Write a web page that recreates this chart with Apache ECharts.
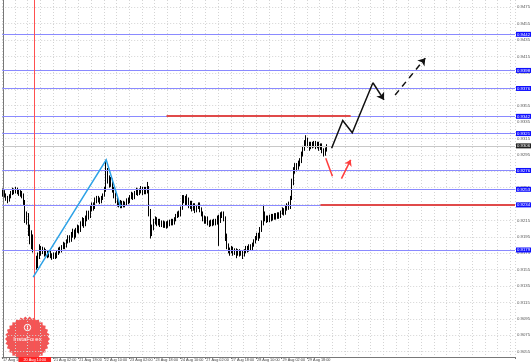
<!DOCTYPE html>
<html><head><meta charset="utf-8">
<script src="https://cdn.jsdelivr.net/npm/echarts@6/dist/echarts.min.js"></script>
<style>html,body{margin:0;padding:0;background:#fff}#c{width:531px;height:362px}</style>
</head><body><div id="c"></div>
<script>
// ---- data ----
const barCount = 323;
const timeTickIndex = [0,16,32,48,64,80,96,112,128,144,160,176,192];
const timeLabels = ['17 Aug 18:00','20 Aug 10:00','21 Aug 02:00','21 Aug 18:00','22 Aug 10:00','23 Aug 02:00','23 Aug 18:00','24 Aug 10:00','27 Aug 02:00','27 Aug 18:00','28 Aug 10:00','29 Aug 02:00','29 Aug 18:00'];
const priceTicks = [0.9055,0.9075,0.9095,0.9115,0.9135,0.9155,0.9175,0.9195,0.9215,0.9235,0.9255,0.9275,0.9295,0.9315,0.9335,0.9355,0.9375,0.9395,0.9415,0.9435,0.9455,0.9475];
const yMin = 0.90485, yMax = 0.94839;
// [open, close, low, high]
const candles = [
[0.9247,0.9250,0.9244,0.9254],[0.9250,0.9246,0.9243,0.9252],[0.9246,0.9242,0.9239,0.9248],[0.9242,0.9240,0.9236,0.9245],
[0.9240,0.9244,0.9238,0.9247],[0.9244,0.9249,0.9242,0.9251],[0.9249,0.9252,0.9246,0.9255],[0.9252,0.9250,0.9247,0.9254],
[0.9250,0.9253,0.9248,0.9256],[0.9253,0.9251,0.9247,0.9255],[0.9251,0.9248,0.9245,0.9253],[0.9248,0.9250,0.9244,0.9252],
[0.9250,0.9246,0.9242,0.9251],[0.9246,0.9238,0.9234,0.9248],[0.9238,0.9218,0.9212,0.9240],[0.9218,0.9222,0.9210,0.9226],
[0.9222,0.9205,0.9196,0.9224],[0.9205,0.9200,0.9186,0.9210],[0.9200,0.9190,0.9180,0.9203],[0.9190,0.9194,0.9176,0.9198],
[0.9194,0.9165,0.9148,0.9196],[0.9165,0.9160,0.9155,0.9172],[0.9160,0.9172,0.9157,0.9176],[0.9172,0.9181,0.9168,0.9186],
[0.9181,0.9177,0.9172,0.9184],[0.9177,0.9180,0.9174,0.9183],[0.9180,0.9175,0.9171,0.9182],[0.9175,0.9177,0.9172,0.9180],
[0.9177,0.9172,0.9169,0.9179],[0.9172,0.9176,0.9170,0.9178],[0.9176,0.9173,0.9169,0.9178],[0.9173,0.9170,0.9167,0.9175],
[0.9170,0.9174,0.9168,0.9176],[0.9174,0.9171,0.9168,0.9176],[0.9171,0.9176,0.9169,0.9178],[0.9176,0.9180,0.9173,0.9182],
[0.9180,0.9178,0.9175,0.9183],[0.9178,0.9183,0.9176,0.9185],[0.9183,0.9186,0.9180,0.9189],[0.9186,0.9184,0.9180,0.9188],
[0.9184,0.9190,0.9182,0.9192],[0.9190,0.9194,0.9187,0.9197],[0.9194,0.9191,0.9188,0.9197],[0.9191,0.9198,0.9189,0.9201],
[0.9198,0.9202,0.9194,0.9205],[0.9202,0.9196,0.9192,0.9204],[0.9196,0.9203,0.9194,0.9206],[0.9203,0.9207,0.9200,0.9210],
[0.9207,0.9204,0.9199,0.9209],[0.9204,0.9212,0.9201,0.9214],[0.9212,0.9216,0.9208,0.9219],[0.9216,0.9210,0.9206,0.9218],
[0.9210,0.9218,0.9208,0.9221],[0.9218,0.9224,0.9214,0.9227],[0.9224,0.9221,0.9216,0.9227],[0.9221,0.9230,0.9218,0.9233],
[0.9230,0.9234,0.9226,0.9237],[0.9234,0.9231,0.9227,0.9237],[0.9231,0.9240,0.9229,0.9243],[0.9240,0.9242,0.9236,0.9245],
[0.9242,0.9240,0.9237,0.9245],[0.9240,0.9238,0.9235,0.9243],[0.9238,0.9243,0.9236,0.9245],[0.9243,0.9246,0.9240,0.9248],
[0.9246,0.9252,0.9244,0.9256],[0.9252,0.9274,0.9250,0.9289],[0.9274,0.9266,0.9260,0.9279],[0.9266,0.9260,0.9255,0.9270],
[0.9260,0.9264,0.9256,0.9268],[0.9264,0.9253,0.9249,0.9266],[0.9253,0.9246,0.9242,0.9256],[0.9246,0.9240,0.9236,0.9249],
[0.9240,0.9236,0.9232,0.9243],[0.9236,0.9238,0.9231,0.9241],[0.9238,0.9233,0.9230,0.9240],[0.9233,0.9237,0.9230,0.9239],
[0.9237,0.9234,0.9231,0.9239],[0.9234,0.9236,0.9231,0.9238],[0.9236,0.9240,0.9233,0.9242],[0.9240,0.9238,0.9235,0.9243],
[0.9238,0.9244,0.9236,0.9246],[0.9244,0.9247,0.9241,0.9250],[0.9247,0.9243,0.9240,0.9249],[0.9243,0.9249,0.9241,0.9251],
[0.9249,0.9252,0.9246,0.9255],[0.9252,0.9248,0.9245,0.9254],[0.9248,0.9251,0.9246,0.9254],[0.9251,0.9254,0.9248,0.9257],
[0.9254,0.9249,0.9246,0.9256],[0.9249,0.9253,0.9247,0.9256],[0.9253,0.9250,0.9247,0.9256],[0.9250,0.9255,0.9248,0.9262],
[0.9255,0.9226,0.9220,0.9257],[0.9226,0.9202,0.9193,0.9229],[0.9202,0.9207,0.9196,0.9210],[0.9207,0.9214,0.9203,0.9217],
[0.9214,0.9217,0.9210,0.9220],[0.9217,0.9212,0.9208,0.9219],[0.9212,0.9215,0.9209,0.9217],[0.9215,0.9210,0.9207,0.9217],
[0.9210,0.9213,0.9207,0.9215],[0.9213,0.9209,0.9206,0.9215],[0.9209,0.9212,0.9206,0.9214],[0.9212,0.9208,0.9205,0.9214],
[0.9208,0.9213,0.9206,0.9215],[0.9213,0.9211,0.9208,0.9216],[0.9211,0.9215,0.9209,0.9217],[0.9215,0.9212,0.9209,0.9217],
[0.9212,0.9217,0.9210,0.9219],[0.9217,0.9221,0.9214,0.9223],[0.9221,0.9224,0.9218,0.9226],[0.9224,0.9222,0.9219,0.9227],
[0.9222,0.9230,0.9220,0.9232],[0.9230,0.9240,0.9228,0.9246],[0.9240,0.9243,0.9236,0.9246],[0.9243,0.9237,0.9233,0.9245],
[0.9237,0.9241,0.9234,0.9247],[0.9241,0.9234,0.9230,0.9243],[0.9234,0.9237,0.9229,0.9239],[0.9237,0.9230,0.9226,0.9239],
[0.9230,0.9234,0.9227,0.9236],[0.9234,0.9228,0.9224,0.9236],[0.9228,0.9232,0.9225,0.9234],[0.9232,0.9235,0.9229,0.9237],
[0.9235,0.9229,0.9225,0.9237],[0.9229,0.9224,0.9220,0.9231],[0.9224,0.9218,0.9214,0.9226],[0.9218,0.9215,0.9211,0.9221],
[0.9215,0.9218,0.9211,0.9220],[0.9218,0.9213,0.9209,0.9220],[0.9213,0.9210,0.9207,0.9215],[0.9210,0.9214,0.9208,0.9216],
[0.9214,0.9211,0.9208,0.9216],[0.9211,0.9215,0.9209,0.9217],[0.9215,0.9212,0.9209,0.9217],[0.9212,0.9219,0.9210,0.9221],
[0.9219,0.9215,0.9184,0.9222],[0.9215,0.9221,0.9212,0.9225],[0.9221,0.9224,0.9218,0.9226],[0.9224,0.9218,0.9214,0.9226],
[0.9218,0.9196,0.9190,0.9220],[0.9196,0.9184,0.9180,0.9199],[0.9184,0.9179,0.9175,0.9187],[0.9179,0.9176,0.9172,0.9182],
[0.9177,0.9181,0.9175,0.9184],[0.9181,0.9176,0.9172,0.9183],[0.9176,0.9179,0.9173,0.9181],[0.9179,0.9174,0.9169,0.9181],
[0.9174,0.9178,0.9172,0.9180],[0.9178,0.9175,0.9171,0.9180],[0.9175,0.9177,0.9172,0.9179],[0.9177,0.9173,0.9168,0.9179],
[0.9173,0.9178,0.9171,0.9180],[0.9178,0.9182,0.9175,0.9184],[0.9182,0.9179,0.9176,0.9184],[0.9179,0.9184,0.9177,0.9186],
[0.9184,0.9181,0.9178,0.9186],[0.9181,0.9186,0.9179,0.9188],[0.9186,0.9190,0.9183,0.9192],[0.9190,0.9194,0.9187,0.9196],
[0.9194,0.9198,0.9191,0.9200],[0.9198,0.9195,0.9190,0.9200],[0.9195,0.9204,0.9193,0.9207],[0.9204,0.9212,0.9201,0.9215],
[0.9212,0.9222,0.9209,0.9234],[0.9222,0.9218,0.9214,0.9226],[0.9218,0.9215,0.9212,0.9221],[0.9215,0.9219,0.9213,0.9221],
[0.9219,0.9216,0.9213,0.9222],[0.9216,0.9221,0.9214,0.9223],[0.9221,0.9218,0.9215,0.9223],[0.9218,0.9222,0.9216,0.9224],
[0.9222,0.9219,0.9216,0.9224],[0.9219,0.9223,0.9217,0.9225],[0.9223,0.9220,0.9217,0.9225],[0.9220,0.9225,0.9218,0.9227],
[0.9225,0.9228,0.9222,0.9231],[0.9228,0.9224,0.9221,0.9230],[0.9224,0.9230,0.9222,0.9233],[0.9230,0.9233,0.9227,0.9236],
[0.9233,0.9231,0.9228,0.9238],[0.9231,0.9242,0.9229,0.9245],[0.9242,0.9262,0.9240,0.9266],[0.9262,0.9276,0.9258,0.9280],
[0.9276,0.9282,0.9272,0.9285],[0.9282,0.9279,0.9275,0.9285],[0.9279,0.9285,0.9277,0.9288],[0.9285,0.9288,0.9281,0.9291],
[0.9288,0.9296,0.9285,0.9299],[0.9296,0.9303,0.9293,0.9306],[0.9303,0.9310,0.9300,0.9313],[0.9310,0.9314,0.9306,0.9319],
[0.9314,0.9308,0.9304,0.9316],[0.9308,0.9304,0.9300,0.9311],[0.9304,0.9309,0.9302,0.9311],[0.9309,0.9306,0.9303,0.9311],
[0.9306,0.9310,0.9304,0.9312],[0.9310,0.9305,0.9302,0.9312],[0.9305,0.9309,0.9303,0.9311],[0.9309,0.9303,0.9300,0.9311],
[0.9303,0.9307,0.9301,0.9309],[0.9307,0.9300,0.9297,0.9309],[0.9300,0.9296,0.9293,0.9303],[0.9296,0.9302,0.9294,0.9304],
[0.9302,0.9306,0.9299,0.9308]
];
const levelValues = [0.9442,0.9398,0.9376,0.9342,0.9321,0.9276,0.9253,0.9234,0.9179];
const currentPrice = 0.9306;
const cursorBar = 20;
const cursorLabel = '20 Aug 14:00';
// drawings: [bar index, price]
const blueTrend = [[19,0.9146],[65,0.9289],[74,0.9232]];
const redUpperLevel = [[103,0.9343],[219,0.9343]];
const redLowerLevel = [[200,0.9234],[322.5,0.9234]];
const blackPath = [[207,0.9303],[214,0.9337],[220,0.9322],[233,0.9383]];
const blackPathTip = [[233,0.9383],[240,0.9362]];
const blackDashed = [[247,0.9368],[266,0.9413]];
const redDown = [[203.3,0.9291],[207.5,0.9269]];
const redUp = [[213.2,0.9266],[219,0.9289]];

// ---- chart ----
const categories = Array.from({length: barCount}, (_, i) => String(i));
const labelMap = {};
timeTickIndex.forEach((b, k) => { labelMap[b] = timeLabels[k]; });
const showLabel = (idx) => labelMap[idx] !== undefined && idx !== 16;
const font = 'Liberation Sans';

// InstaForex badge (decoration)
const cx = 27.5, cy = 339, R = 22.5, r = 20.5, n = 30;
const starPts = [];
for (let k = 0; k < 2 * n; k++) {
  const a = k * Math.PI / n;
  const rr = k % 2 === 0 ? R : r;
  starPts.push([cx + rr * Math.cos(a), Math.min(357, cy + rr * Math.sin(a))]);
}

const segs = (extra) => Object.assign({
  type: 'lines', coordinateSystem: 'cartesian2d', xAxisIndex: 1, yAxisIndex: 0, z: 6, silent: true
}, extra);

const chart = echarts.init(document.getElementById('c'), null, {renderer: 'canvas'});
chart.setOption({
  animation: false,
  backgroundColor: '#ffffff',
  grid: {left: 0, right: 16, top: 0, bottom: 5, containLabel: false},
  xAxis: [{
    type: 'category', data: categories, boundaryGap: true,
    axisLine: {show: true, lineStyle: {color: '#777', width: 1}},
    axisTick: {show: true, interval: (i) => labelMap[i] !== undefined, length: 2, lineStyle: {color: '#777'}},
    axisLabel: {show: true, interval: (i) => showLabel(i), formatter: (v, i) => labelMap[i] || '',
      align: 'left', margin: 1, fontSize: 3.8, color: '#444', fontFamily: font},
    splitLine: {show: true, interval: (i) => i % 8 === 0, lineStyle: {color: '#d4d4d4', type: [1, 2], width: 1}}
  }, {
    type: 'value', min: -0.5, max: barCount - 0.5, show: false
  }],
  yAxis: [{
    type: 'value', position: 'right', min: yMin, max: yMax, scale: true,
    axisLine: {show: true, lineStyle: {color: '#777', width: 1}},
    axisTick: {show: false}, axisLabel: {show: false}, splitLine: {show: false}
  }],
  series: [
    {
      name: 'grid', type: 'line', data: [], xAxisIndex: 0, yAxisIndex: 0, z: 1,
      markLine: {
        z: 1, silent: true, symbol: 'none', animation: false, precision: 5,
        lineStyle: {color: '#d4d4d4', type: [1, 2], width: 1},
        label: {position: 'end', distance: 2, fontSize: 4.3, color: '#555', fontFamily: font,
          formatter: (p) => Number(p.value).toFixed(4)},
        emphasis: {disabled: true},
        data: priceTicks.map(v => ({yAxis: v}))
      }
    },
    {
      name: 'candles', type: 'candlestick', data: candles, xAxisIndex: 0, yAxisIndex: 0, z: 3,
      barWidth: 1.3,
      itemStyle: {color: '#ffffff', color0: '#000000', borderColor: '#000000', borderColor0: '#000000', borderWidth: 1}
    },
    {
      name: 'levels', type: 'line', data: [], xAxisIndex: 0, yAxisIndex: 0, z: 4,
      markLine: {
        z: 4, silent: true, symbol: 'none', animation: false, precision: 5,
        emphasis: {disabled: true},
        data: levelValues.map(v => ({
          yAxis: v,
          lineStyle: {color: '#8a8aff', type: 'solid', width: 1},
          label: {position: 'end', distance: 1, fontSize: 4.3, color: '#ffffff', fontFamily: font,
            backgroundColor: '#1010ff', padding: [0.5, 1], formatter: (p) => Number(p.value).toFixed(4)}
        })).concat([{
          yAxis: currentPrice,
          lineStyle: {color: '#c8c8c8', type: 'solid', width: 1},
          label: {position: 'end', distance: 1, fontSize: 4.3, color: '#ffffff', fontFamily: font,
            backgroundColor: '#222222', padding: [0.5, 1], formatter: (p) => Number(p.value).toFixed(4)}
        }, {
          xAxis: categories[cursorBar],
          lineStyle: {color: '#ff5050', type: 'solid', width: 1},
          label: {position: 'start', distance: 0, fontSize: 3.8, color: '#ffffff', fontFamily: font,
            backgroundColor: '#ff2020', padding: [1, 5], formatter: () => cursorLabel}
        }])
      }
    },
    segs({z: 5, polyline: false, symbol: 'none',
      lineStyle: {color: '#e04a4a', width: 2, opacity: 1},
      data: [{coords: redUpperLevel}, {coords: redLowerLevel}]}),
    segs({polyline: true, symbol: 'none',
      lineStyle: {color: '#2ea2e6', width: 1.5, opacity: 1},
      data: [{coords: blueTrend}]}),
    segs({polyline: true, symbol: 'none',
      lineStyle: {color: '#111111', width: 1.5, opacity: 1},
      data: [{coords: blackPath}]}),
    segs({polyline: false, symbol: ['none', 'arrow'], symbolSize: [5, 7],
      lineStyle: {color: '#111111', width: 1.5, opacity: 1},
      data: [{coords: blackPathTip}]}),
    segs({polyline: false, symbol: ['none', 'arrow'], symbolSize: [5, 7],
      lineStyle: {color: '#111111', width: 1.5, type: [6, 5], opacity: 1},
      data: [{coords: blackDashed}]}),
    segs({polyline: false, symbol: 'none',
      lineStyle: {color: '#ff3c3c', width: 1.5, opacity: 1},
      data: [{coords: redDown}]}),
    segs({polyline: false, symbol: ['none', 'arrow'], symbolSize: [5, 6],
      lineStyle: {color: '#ff3c3c', width: 1.5, opacity: 1},
      data: [{coords: redUp}]})
  ],
  graphic: [{
    type: 'group', z: 10, silent: true,
    children: [
      {type: 'polygon', shape: {points: starPts}, style: {fill: '#f04848', opacity: 0.92}},
      {type: 'circle', shape: {cx: cx, cy: 327.5, r: 3.2}, style: {fill: 'none', stroke: '#ffffff', lineWidth: 1}},
      {type: 'rect', shape: {x: cx - 0.6, y: 325.5, width: 1.2, height: 4}, style: {fill: '#ffffff'}},
      {type: 'text', style: {x: cx, y: 339, text: 'InstaForex', fill: '#ffffff', fontSize: 6, fontFamily: font,
        textAlign: 'center', textVerticalAlign: 'middle'}}
    ]
  }]
});
</script>
</body></html>
